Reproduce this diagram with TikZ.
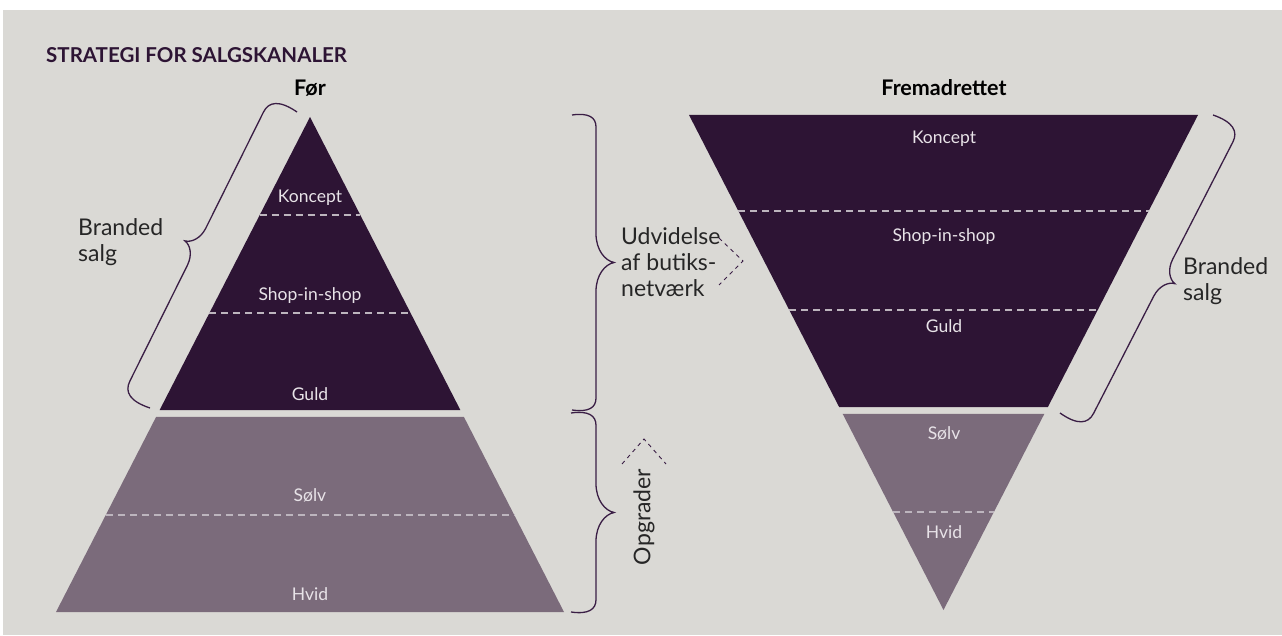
\documentclass[tikz,border=0pt]{standalone}
\usepackage{fontspec}
\setmainfont{Lato}
\usetikzlibrary{calc}

\definecolor{baggrund}{HTML}{DAD9D5}
\definecolor{moerk}{HTML}{2D1434}
\definecolor{lys}{HTML}{7B6B7B}
\definecolor{klamme}{HTML}{3A1E45}
\definecolor{etiket}{HTML}{E8E3E8}
\definecolor{streg}{HTML}{BDB5BE}

\tikzset{
  niveau/.style={text=etiket, inner sep=0pt, font=\fontsize{17.5}{20}\selectfont},
  forklaring/.style={text=black!85, inner sep=0pt, align=left, font=\fontsize{23}{26}\selectfont},
  overskrift/.style={inner sep=0pt, font=\bfseries\fontsize{21.5}{24}\selectfont},
  skille/.style={draw=streg, line width=1.2pt, dash pattern=on 7pt off 5pt},
  pil/.style={draw=klamme, line width=0.9pt, dash pattern=on 4pt off 4pt},
  tuborglinje/.style={draw=klamme, line width=1.3pt},
  pics/tuborg/.style n args={3}{code={%
    \draw[tuborglinje]
      (0,0) .. controls ({-0.1*#2},{0.7*#2}) and ({0.1*#2},#2) .. ({0.5*#2},#2)
      -- ({#1/2-1.6*#3},#2)
      .. controls ({#1/2-0.7*#3},#2) and ({#1/2-0.1*#3},{#2+0.5*#3}) .. ({#1/2},{#2+#3})
      .. controls ({#1/2+0.1*#3},{#2+0.5*#3}) and ({#1/2+0.7*#3},#2) .. ({#1/2+1.6*#3},#2)
      -- ({#1-0.5*#2},#2)
      .. controls ({#1-0.1*#2},#2) and ({#1+0.1*#2},{0.7*#2}) .. (#1,0);
  }}
}

\begin{document}
\begin{tikzpicture}[x=1pt, y=1pt]
  \useasboundingbox (0,0) rectangle (1282,635);
  \fill[baggrund] (3,0) rectangle (1282,625);

  \node[anchor=west, inner sep=0pt, text=moerk, font=\bfseries\fontsize{20.5}{23}\selectfont]
    (titel) at (46,580) {STRATEGI FOR SALGSKANALER};

  % Foer
  \coordinate (foerTop) at (310,518);
  \coordinate (foerVen) at (56,23);
  \coordinate (foerHoj) at (564,23);
  \fill[moerk] (foerTop) -- ($(foerTop)!0.592!(foerHoj)$) -- ($(foerTop)!0.592!(foerVen)$) -- cycle;
  \fill[lys] ($(foerTop)!0.606!(foerVen)$) -- ($(foerTop)!0.606!(foerHoj)$) -- (foerHoj) -- (foerVen) -- cycle;
  \draw[skille] ($(foerTop)!0.198!(foerVen)$) -- ($(foerTop)!0.198!(foerHoj)$);
  \draw[skille] ($(foerTop)!0.396!(foerVen)$) -- ($(foerTop)!0.396!(foerHoj)$);
  \draw[skille] ($(foerTop)!0.804!(foerVen)$) -- ($(foerTop)!0.804!(foerHoj)$);

  \node[overskrift] (foer) at (310,547) {Før};
  \node[niveau] (foerKoncept) at (310,437) {Koncept};
  \node[niveau] (foerShop) at (310,339) {Shop-in-shop};
  \node[niveau] (foerGuld) at (310,241) {Guld};
  \node[niveau] (foerSoelv) at (310,140) {Sølv};
  \node[niveau] (foerHvid) at (310,41) {Hvid};

  % Fremadrettet
  \coordinate (fremVen) at (689,520);
  \coordinate (fremHoj) at (1198,520);
  \coordinate (fremBund) at (943.5,25);
  \fill[moerk] (fremVen) -- (fremHoj) -- ($(fremHoj)!0.59!(fremBund)$) -- ($(fremVen)!0.59!(fremBund)$) -- cycle;
  \fill[lys] ($(fremVen)!0.604!(fremBund)$) -- ($(fremHoj)!0.604!(fremBund)$) -- (fremBund) -- cycle;
  \draw[skille] ($(fremVen)!0.194!(fremBund)$) -- ($(fremHoj)!0.194!(fremBund)$);
  \draw[skille] ($(fremVen)!0.394!(fremBund)$) -- ($(fremHoj)!0.394!(fremBund)$);
  \draw[skille] ($(fremVen)!0.802!(fremBund)$) -- ($(fremHoj)!0.802!(fremBund)$);

  \node[overskrift] (frem) at (944,547) {Fremadrettet};
  \node[niveau] (fremKoncept) at (944,496) {Koncept};
  \node[niveau] (fremShop) at (944,398) {Shop-in-shop};
  \node[niveau] (fremGuld) at (944,309) {Guld};
  \node[niveau] (fremSoelv) at (944,202) {Sølv};
  \node[niveau] (fremHvid) at (944,103) {Hvid};

  % klammer
  \coordinate (brandA) at (150,227);
  \coordinate (brandB) at (1213,520);
  \coordinate (udvA) at (572,520);
  \coordinate (opgA) at (571,222);
  \pic[rotate=63.59] at (brandA) {tuborg={330.5}{30}{13}};
  \pic[rotate=-117.17] at (brandB) {tuborg={335}{30}{13}};
  \pic[rotate=-90] at (udvA) {tuborg={295}{24}{18}};
  \pic[rotate=-90] at (opgA) {tuborg={199}{25}{18}};

  \node[forklaring, anchor=west] (brandVen) at (78,393) {Branded\\salg};
  \node[forklaring, anchor=west] (brandHoj) at (1183,354) {Branded\\salg};
  \node[forklaring, anchor=west] (udvidelse) at (621,373) {Udvidelse\\af butiks-\\netværk};
  \node[forklaring, rotate=90] (opgrader) at (644,118) {Opgrader};

  % pile
  \coordinate (udvPil1) at (719,397);
  \coordinate (udvSpids) at (743,374);
  \coordinate (udvPil2) at (719,350);
  \draw[pil] (udvPil1) -- (udvSpids) -- (udvPil2);
  \coordinate (opgPil1) at (622,171);
  \coordinate (opgSpids) at (644,196);
  \coordinate (opgPil2) at (666,171);
  \draw[pil] (opgPil1) -- (opgSpids) -- (opgPil2);
\end{tikzpicture}
\end{document}
